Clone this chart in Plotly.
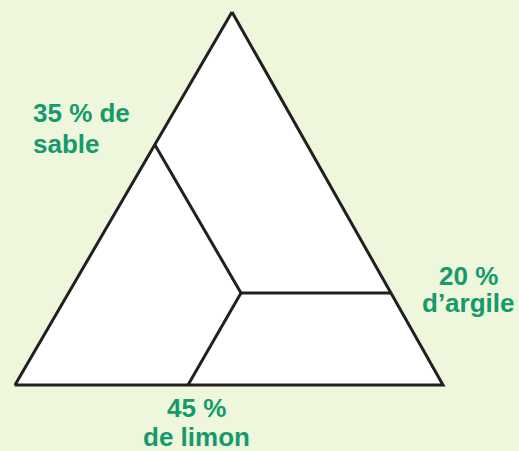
import plotly.graph_objects as go

# Triangle corners and dividing lines (drawing units = pixels, y grows downward)
tri_x = [232, 443, 15, 232]
tri_y = [12, 385, 385, 12]

# dividing lines meet at one inner point
sand_line_x = [155, 241]
sand_line_y = [145, 293]
clay_line_x = [241, 391]
clay_line_y = [293, 293]
silt_line_x = [241, 188]
silt_line_y = [293, 385]

# labels, one entry per text line
label_text = ["35 % de", "sable", "20 %", "d’argile", "45 %", "de limon"]
label_x = [31, 31, 468, 468, 196, 196]
label_y = [113, 144, 276, 303, 408, 437]
label_anchor = ["left", "left", "center", "center", "center", "center"]

green = "#159a6b"
ink = "#231f20"

fig = go.Figure()
fig.add_trace(go.Scatter(x=tri_x, y=tri_y, mode="lines", fill="toself",
                         fillcolor="white", line=dict(color=ink, width=3),
                         hoverinfo="skip"))
for lx, ly in [(sand_line_x, sand_line_y), (clay_line_x, clay_line_y), (silt_line_x, silt_line_y)]:
    fig.add_trace(go.Scatter(x=lx, y=ly, mode="lines",
                             line=dict(color=ink, width=3), hoverinfo="skip"))

for t, x, y, a in zip(label_text, label_x, label_y, label_anchor):
    fig.add_annotation(x=x, y=y, text="<b>" + t + "</b>", showarrow=False,
                       xanchor=a, yanchor="middle",
                       font=dict(family="Liberation Sans", size=26, color=green))

fig.update_xaxes(range=[0, 519], visible=False)
fig.update_yaxes(range=[451, 0], visible=False)
fig.update_layout(width=519, height=451, margin=dict(l=0, r=0, t=0, b=0),
                  paper_bgcolor="#eef7db", plot_bgcolor="#eef7db",
                  showlegend=False)
# page body has a default 8px margin, drop it so the figure fills the window
fig.write_html("out.html", config={"displayModeBar": False},
               post_script="document.body.style.margin='0px';")
